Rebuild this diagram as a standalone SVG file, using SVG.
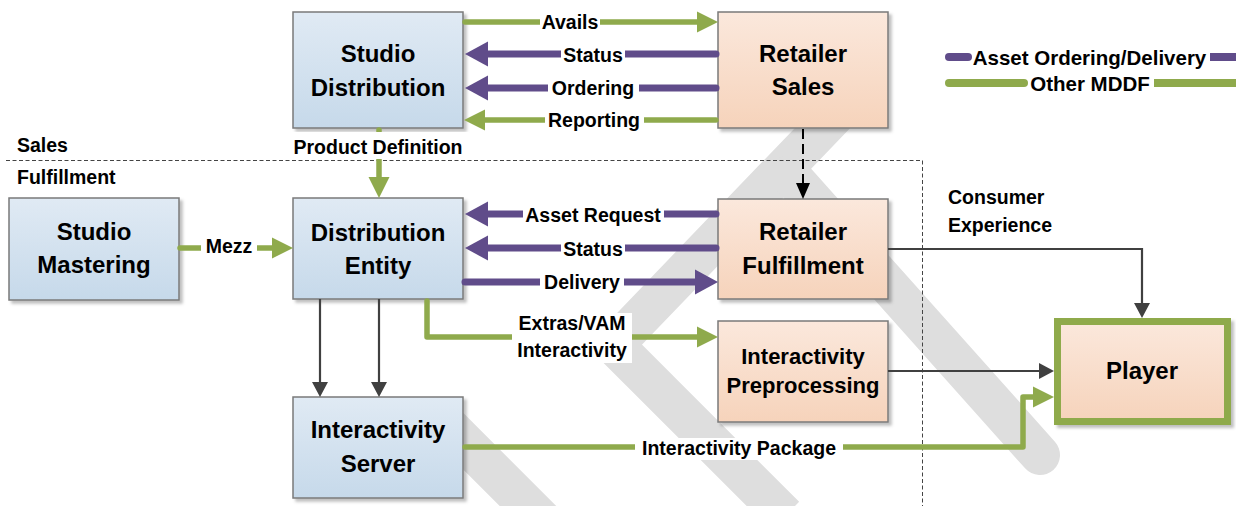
<svg xmlns="http://www.w3.org/2000/svg" width="1236" height="506" viewBox="0 0 1236 506">
  <defs>
    <linearGradient id="gBlue" x1="0" y1="0" x2="0" y2="1">
      <stop offset="0" stop-color="#e0eaf4"/>
      <stop offset="1" stop-color="#c6d9ea"/>
    </linearGradient>
    <linearGradient id="gPeach" x1="0" y1="0" x2="0" y2="1">
      <stop offset="0" stop-color="#fbe8dc"/>
      <stop offset="1" stop-color="#f6d3bb"/>
    </linearGradient>
    <filter id="shadow" x="-10%" y="-10%" width="125%" height="130%">
      <feDropShadow dx="3" dy="3" stdDeviation="1.6" flood-color="#000" flood-opacity="0.25"/>
    </filter>
    <marker id="hG" markerUnits="userSpaceOnUse" markerWidth="22" markerHeight="22" refX="0" refY="11" orient="auto" overflow="visible">
      <path d="M0,0.5 L21,11 L0,21.5 z" fill="#8faa4c"/>
    </marker>
    <marker id="hP" markerUnits="userSpaceOnUse" markerWidth="24" markerHeight="26" refX="0" refY="12.5" orient="auto" overflow="visible">
      <path d="M0,0 L23,12.5 L0,25 z" fill="#604c8a"/>
    </marker>
    <marker id="hD" markerUnits="userSpaceOnUse" markerWidth="16" markerHeight="16" refX="0" refY="8" orient="auto" overflow="visible">
      <path d="M0,0 L15,8 L0,16 z" fill="#404040"/>
    </marker>
    <marker id="hK" markerUnits="userSpaceOnUse" markerWidth="16" markerHeight="14" refX="0" refY="7" orient="auto" overflow="visible">
      <path d="M0,0 L16,7 L0,14 z" fill="#000"/>
    </marker>
  </defs>
  <style>
    .wm{fill:none;stroke:#dedede;stroke-width:40;stroke-linejoin:round}
    .box{stroke:#7a7a7a;stroke-width:1.5;filter:url(#shadow)}
    .blue{fill:url(#gBlue)}
    .peach{fill:url(#gPeach)}
    .t{font-family:"Liberation Sans",Arial,Helvetica,sans-serif;font-weight:bold;fill:#000}
    .bt{font-size:24px;text-anchor:middle}
    .bs{font-size:22px;text-anchor:middle}
    .lt{font-size:19.5px;text-anchor:middle}
    .st{font-size:19.5px}
    .gt{font-size:20.5px;text-anchor:middle}
    .bg{fill:#fff}
    .green{fill:none;stroke:#8faa4c;stroke-width:5.5;stroke-linecap:round;stroke-linejoin:round}
    .purple{fill:none;stroke:#604c8a;stroke-width:7;stroke-linecap:round}
    .dark{fill:none;stroke:#404040;stroke-width:2.2}
    .dash{fill:none;stroke:#000;stroke-width:2;stroke-dasharray:10 5}
    .zone{fill:none;stroke:#444;stroke-width:1;stroke-dasharray:4 2.5}
  </style>

  <!-- faint background watermark strokes -->
  <g id="watermark">
    <polyline class="wm" points="838,112 614,345 785,516"/>
    <polyline class="wm" style="stroke-linecap:round" points="790,175 1040,455"/>
    <polyline class="wm" points="440,418 562,540"/>
  </g>

  <!-- Sales / Fulfillment / Consumer zone boundary -->
  <g id="zones">
    <path class="zone" d="M6,160.5 H922.5 V506"/>
    <text class="t st" x="17" y="152">Sales</text>
    <text class="t st" x="17" y="184">Fulfillment</text>
    <text class="t st" x="948" y="204">Consumer</text>
    <text class="t st" x="948" y="232">Experience</text>
  </g>

  <!-- nodes -->
  <g id="studio-distribution">
    <rect class="box blue" x="293" y="12" width="170" height="116"/>
    <text class="t bt" x="378" y="62">Studio</text>
    <text class="t bt" x="378" y="96">Distribution</text>
  </g>
  <g id="studio-mastering">
    <rect class="box blue" x="9" y="198" width="170" height="102"/>
    <text class="t bt" x="94" y="240">Studio</text>
    <text class="t bt" x="94" y="273">Mastering</text>
  </g>
  <g id="distribution-entity">
    <rect class="box blue" x="293" y="198" width="170" height="101"/>
    <text class="t bt" x="378" y="241">Distribution</text>
    <text class="t bt" x="378" y="274">Entity</text>
  </g>
  <g id="interactivity-server">
    <rect class="box blue" x="293" y="397" width="170" height="101"/>
    <text class="t bt" x="378" y="438">Interactivity</text>
    <text class="t bt" x="378" y="472">Server</text>
  </g>
  <g id="retailer-sales">
    <rect class="box peach" x="718" y="12" width="170" height="116"/>
    <text class="t bt" x="803" y="62">Retailer</text>
    <text class="t bt" x="803" y="95">Sales</text>
  </g>
  <g id="retailer-fulfillment">
    <rect class="box peach" x="718" y="199" width="170" height="100"/>
    <text class="t bt" x="803" y="240">Retailer</text>
    <text class="t bt" x="803" y="274">Fulfillment</text>
  </g>
  <g id="interactivity-preprocessing">
    <rect class="box peach" x="718" y="321" width="170" height="101"/>
    <text class="t bs" x="803" y="364">Interactivity</text>
    <text class="t bs" x="803" y="393">Preprocessing</text>
  </g>
  <g id="player">
    <rect class="box peach" x="1057.5" y="321.5" width="170" height="100" style="stroke:#8faa4c;stroke-width:7"/>
    <text class="t bt" x="1142" y="379">Player</text>
  </g>

  <!-- connectors -->
  <g id="connectors">
    <line class="green" x1="465" y1="22" x2="697" y2="22" marker-end="url(#hG)"/>
    <line class="purple" x1="716" y1="54" x2="488" y2="54" marker-end="url(#hP)"/>
    <line class="purple" x1="716" y1="88" x2="488" y2="88" marker-end="url(#hP)"/>
    <line class="green" x1="716" y1="120" x2="485" y2="120" marker-end="url(#hG)"/>
    <line class="green" x1="379" y1="130" x2="379" y2="177" marker-end="url(#hG)"/>
    <line class="green" x1="180" y1="248" x2="272" y2="248" marker-end="url(#hG)"/>
    <line class="purple" x1="716" y1="214" x2="488" y2="214" marker-end="url(#hP)"/>
    <line class="purple" x1="716" y1="248" x2="488" y2="248" marker-end="url(#hP)"/>
    <line class="purple" x1="465" y1="282" x2="695" y2="282" marker-end="url(#hP)"/>
    <polyline class="green" points="427,301 427,337 697,337" marker-end="url(#hG)"/>
    <polyline class="green" points="465,447 1023,447 1023,397 1033,397" marker-end="url(#hG)"/>
    <line class="dark" x1="320" y1="299" x2="320" y2="382" marker-end="url(#hD)"/>
    <line class="dark" x1="379" y1="299" x2="379" y2="382" marker-end="url(#hD)"/>
    <line class="dash" x1="803" y1="129" x2="803" y2="183" marker-end="url(#hK)"/>
    <polyline class="dark" points="888,249 1142,249 1142,303" marker-end="url(#hD)"/>
    <line class="dark" x1="888" y1="371" x2="1039" y2="371" marker-end="url(#hD)"/>

    <!-- connector labels -->
    <rect class="bg" x="540" y="13" width="60" height="20"/>
    <text class="t lt" x="570" y="29">Avails</text>
    <rect class="bg" x="561" y="45" width="64" height="20"/>
    <text class="t lt" x="593" y="62">Status</text>
    <rect class="bg" x="548" y="79" width="91" height="20"/>
    <text class="t lt" x="593" y="95">Ordering</text>
    <rect class="bg" x="545" y="111" width="99" height="20"/>
    <text class="t lt" x="594" y="127">Reporting</text>
    <rect class="bg" x="287" y="132" width="182" height="27"/>
    <text class="t lt" x="378" y="154">Product Definition</text>
    <rect class="bg" x="201" y="237" width="56" height="20"/>
    <text class="t lt" x="229" y="253">Mezz</text>
    <rect class="bg" x="523" y="205" width="141" height="20"/>
    <text class="t lt" x="593" y="222">Asset Request</text>
    <rect class="bg" x="561" y="239" width="64" height="20"/>
    <text class="t lt" x="593" y="256">Status</text>
    <rect class="bg" x="540" y="273" width="84" height="20"/>
    <text class="t lt" x="582" y="289">Delivery</text>
    <rect class="bg" x="512" y="313" width="120" height="50"/>
    <text class="t lt" x="572" y="330">Extras/VAM</text>
    <text class="t lt" x="572" y="357">Interactivity</text>
    <rect class="bg" x="635" y="438" width="208" height="22"/>
    <text class="t lt" x="739" y="455">Interactivity Package</text>
  </g>

  <!-- legend -->
  <g id="legend">
    <line class="purple" style="stroke-width:8" x1="949" y1="57" x2="968" y2="57"/>
    <text class="t gt" x="1089.5" y="65">Asset Ordering/Delivery</text>
    <line class="purple" style="stroke-width:8;stroke-linecap:butt" x1="1210" y1="57" x2="1236" y2="57"/>
    <line class="green" style="stroke-width:8" x1="949" y1="83" x2="1024" y2="83"/>
    <text class="t gt" x="1090" y="91">Other MDDF</text>
    <line class="green" style="stroke-width:8;stroke-linecap:butt" x1="1154" y1="83" x2="1236" y2="83"/>
  </g>
</svg>
